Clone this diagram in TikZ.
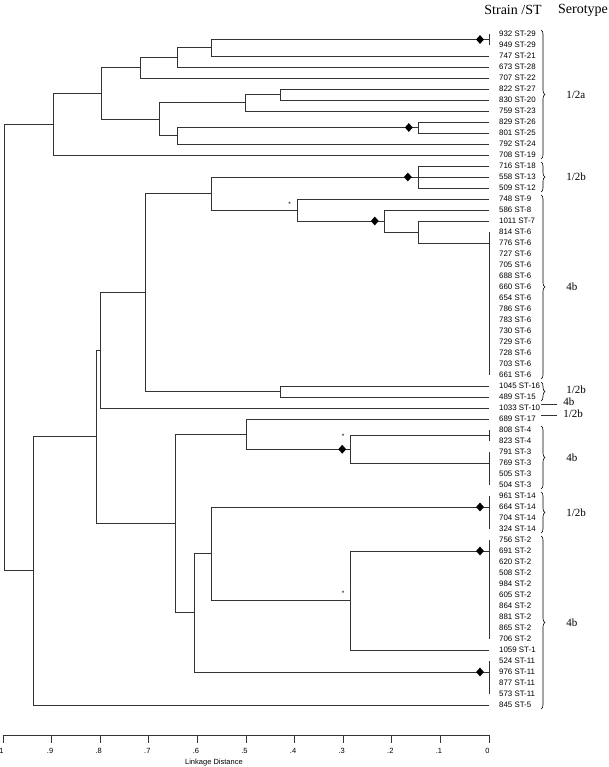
\documentclass[tikz,border=0pt]{standalone}
\usepackage{fontspec}
\setmainfont{Liberation Serif}
\setsansfont{Liberation Sans}
\usetikzlibrary{positioning,shapes.geometric,decorations.pathreplacing}

\begin{document}
\begin{tikzpicture}[
  x=1pt, y=-1pt,
  link/.style={line width=0.8pt, black!80},
  leaf/.style={anchor=west, inner sep=1pt, font=\sffamily\fontsize{7.9}{8}\selectfont},
  dmd/.style={diamond, fill=black, inner sep=0pt, minimum width=8pt, minimum height=9pt},
  star/.style={inner sep=0pt, font=\sffamily\fontsize{6.5}{7}\selectfont},
  hdr/.style={font=\fontsize{14}{16}\selectfont},
  sero/.style={font=\fontsize{11}{13}\selectfont, inner sep=1pt, text=black},
  brc/.style={decorate, decoration={brace, amplitude=4pt}, line width=0.6pt},
  tick/.style={font=\sffamily\fontsize{7.5}{8}\selectfont, inner sep=1pt, text=black}
]
\useasboundingbox (0,0) rectangle (609,767);
\node[hdr] (hstrain) at (513,10) {Strain /ST};
\node[hdr] (hsero) at (583,10) {Serotype};

\begin{scope}[x=-48.6pt, y=-11pt, shift={(489pt,-23pt)}]
% leaves
\foreach \lab [count=\i] in {932 ST-29, 949 ST-29, 747 ST-21, 673 ST-28, 707 ST-22, 822 ST-27, 830 ST-20, 759 ST-23, 829 ST-26, 801 ST-25, 792 ST-24, 708 ST-19, 716 ST-18, 558 ST-13, 509 ST-12, 748 ST-9, 586 ST-8, 1011 ST-7, 814 ST-6, 776 ST-6, 727 ST-6, 705 ST-6, 688 ST-6, 660 ST-6, 654 ST-6, 786 ST-6, 783 ST-6, 730 ST-6, 729 ST-6, 728 ST-6, 703 ST-6, 661 ST-6, 1045 ST-16, 489 ST-15, 1033 ST-10, 689 ST-17, 808 ST-4, 823 ST-4, 791 ST-3, 769 ST-3, 505 ST-3, 504 ST-3, 961 ST-14, 664 ST-14, 704 ST-14, 324 ST-14, 756 ST-2, 691 ST-2, 620 ST-2, 508 ST-2, 984 ST-2, 605 ST-2, 864 ST-2, 881 ST-2, 865 ST-2, 706 ST-2, 1059 ST-1, 524 ST-11, 976 ST-11, 877 ST-11, 573 ST-11, 845 ST-5} {
  \coordinate (e\i) at (0,\i);
  \node[leaf] (l\i) at (-0.185,\i) {\lab};
}

% clusters at distance 0
\coordinate (c29) at (0,1.5);
\coordinate (c6) at (0,20);
\coordinate (c4) at (0,37.5);
\coordinate (c3) at (0,40);
\coordinate (c14) at (0,44);
\coordinate (c2) at (0,48);
\coordinate (c11) at (0,59);
\foreach \a/\b in {1/2, 19/32, 37/38, 39/42, 43/46, 47/56, 58/61}
  \draw[link] (e\a) -- (e\b);

% joins (distance x 10, leaf row)
\coordinate (a1) at (5.72,2.25);
\coordinate (a2) at (6.42,3.125);
\coordinate (a3) at (7.18,4.06);
\coordinate (a4) at (4.30,6.5);
\coordinate (a5) at (5.02,7.25);
\coordinate (a6) at (1.46,9.5);
\coordinate (a7) at (6.42,10.25);
\coordinate (a8) at (6.79,8.75);
\coordinate (a9) at (7.98,6.41);
\coordinate (a10) at (8.97,9.2);
\coordinate (b1) at (1.46,14);
\coordinate (b3) at (1.46,19);
\coordinate (b4) at (2.16,18);
\coordinate (b5) at (3.95,17);
\coordinate (b6) at (5.72,15.5);
\coordinate (b7) at (4.30,33.5);
\coordinate (b8) at (7.08,24.5);
\coordinate (b9) at (8.00,29.75);
\coordinate (d1) at (2.86,38.75);
\coordinate (d2) at (5.00,37.375);
\coordinate (d3) at (2.86,52.5);
\coordinate (d4) at (5.72,48.25);
\coordinate (d5) at (6.07,53.625);
\coordinate (d6) at (6.46,45.5);
\coordinate (d7) at (8.07,37.625);
\coordinate (d8) at (9.38,49.8);
\coordinate (root) at (9.98,29.5);

\foreach \p/\c in {a1/c29, a1/e3, a2/a1, a2/e4, a3/a2, a3/e5, a4/e6, a4/e7,
    a5/a4, a5/e8, a6/e9, a6/e10, a7/a6, a7/e11, a8/a5, a8/a7, a9/a3, a9/a8,
    a10/a9, a10/e12, b1/e13, b1/e14, b1/e15, b3/e18, b3/c6, b4/e17, b4/b3,
    b5/e16, b5/b4, b6/b1, b6/b5, b7/e33, b7/e34, b8/b6, b8/b7, b9/b8, b9/e35,
    d1/c4, d1/c3, d2/e36, d2/d1, d3/c2, d3/e57, d4/c14, d4/d3, d5/d4, d5/c11,
    d6/d2, d6/d5, d7/b9, d7/d6, d8/d7, d8/e62, root/a10, root/d8}
  \draw[link] (\p) |- (\c);

% markers
\node[dmd] (dm1) at (0.185,1.5) {};
\node[dmd] (dm2) at (1.65,9.5) {};
\node[dmd] (dm3) at (1.67,14) {};
\node[dmd] (dm4) at (2.35,18) {};
\node[dmd] (dm5) at (3.02,38.75) {};
\node[dmd] (dm6) at (0.185,44) {};
\node[dmd] (dm7) at (0.185,48) {};
\node[dmd] (dm8) at (0.185,59) {};
\node[star] (st1) at (4.1,16.5) {*};
\node[star] (st2) at (3.0,37.6) {*};
\node[star] (st3) at (3.0,51.8) {*};

% serotypes
\coordinate (bx) at (-1.07,0);
\draw[brc] (l1.north -| bx) -- (l12.south -| bx) node[sero, midway, anchor=west, xshift=24pt] (s1) {1/2a};
\draw[brc] (l13.north -| bx) -- (l15.south -| bx) node[sero, midway, anchor=west, xshift=24pt] (s2) {1/2b};
\draw[brc] (l16.north -| bx) -- (l32.south -| bx) node[sero, midway, anchor=west, xshift=24pt] (s3) {4b};
\draw[brc] (l33.north -| bx) -- (l34.south -| bx) node[sero, midway, anchor=west, xshift=24pt, yshift=2pt] (s4) {1/2b};
\draw[link] (l35.north -| bx) -- ++(16pt,0) node[sero, right=5pt, yshift=2pt] (s5) {4b};
\draw[link] (l36.north -| bx) -- ++(16pt,0) node[sero, right=5pt, yshift=1pt] (s6) {1/2b};
\draw[brc] (l37.north -| bx) -- (l42.south -| bx) node[sero, midway, anchor=west, xshift=24pt] (s7) {4b};
\draw[brc] (l43.north -| bx) -- (l46.south -| bx) node[sero, midway, anchor=west, xshift=24pt] (s8) {1/2b};
\draw[brc] (l47.north -| bx) -- (l62.south -| bx) node[sero, midway, anchor=west, xshift=24pt] (s9) {4b};

% axis
\draw[link] (10,64.73) -- (0,64.73);
\foreach \t/\lab in {10/1, 9/.9, 8/.8, 7/.7, 6/.6, 5/.5, 4/.4, 3/.3, 2/.2, 1/.1, 0/0} {
  \draw[link] (\t,64.73) -- (\t,65.45);
  \node[tick, xshift=-1.5pt] (tk\t) at (\t,66.2) {\lab};
}
\node[tick] (xlab) at (5.66,67.2) {Linkage Distance};
\end{scope}
\end{tikzpicture}
\end{document}
